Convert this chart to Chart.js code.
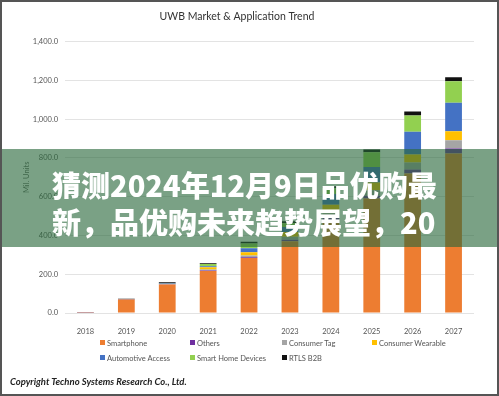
<!DOCTYPE html>
<html>
<head>
<meta charset="utf-8">
<script src="https://cdn.jsdelivr.net/npm/chart.js@4.4.1/dist/chart.umd.min.js"></script>
<style>
  html, body { margin: 0; padding: 0; background: #fff; }
  #wrap { position: relative; width: 499px; height: 396px; overflow: hidden; background: #fff; }
  #chart { position: absolute; left: 0; top: 0; }
  #frame { position: absolute; left: 0; top: 0; width: 495px; height: 392px; border: 2px solid #555; pointer-events: none; }
  #legend { position: absolute; left: 0; top: 0; font: 7.5px Lato, sans-serif; color: #555; }
  .item { position: absolute; white-space: nowrap; line-height: 10px; }
  .item i { display: inline-block; width: 5px; height: 5px; margin-right: 2px; vertical-align: 1px; }
  #copy { position: absolute; left: 10px; top: 376px; font: italic bold 9.5px Lato, sans-serif; color: #222; white-space: nowrap; }
  #banner { position: absolute; left: 0; top: 149px; width: 499px; height: 98px; background: rgba(40,104,58,0.62); overflow: hidden; }
  #banner div { position: absolute; left: 52px; font: 900 29px "Noto Sans CJK SC", sans-serif; color: #fff; white-space: nowrap; line-height: 37px; }
</style>
</head>
<body>
<div id="wrap">
  <canvas id="chart" width="499" height="396"></canvas>
  <div id="legend"></div>
  <div id="copy">Copyright Techno Systems Research Co., Ltd.</div>
  <div id="banner">
    <div style="top:17px">猜测2024年12月9日品优购最</div>
    <div style="top:54px">新，品优购未来趋势展望，20</div>
  </div>
  <div id="frame"></div>
</div>
<script>
const years = ["2018", "2019", "2020", "2021", "2022", "2023", "2024", "2025", "2026", "2027"];
const smartphone = [1, 70, 147, 217, 284, 370, 480, 590, 720, 823];
const others = [1, 1, 1, 2, 4, 8, 12, 15, 20, 25];
const consumerTag = [3, 0, 1, 5, 8, 15, 22, 28, 36, 43];
const consumerWearable = [0, 0, 1, 12, 18, 25, 45, 40, 42, 47];
const automotiveAccess = [0, 0, 2, 5, 20, 25, 55, 80, 117, 147];
const smartHome = [0, 0, 2, 12, 25, 20, 30, 76, 84, 111];
const rtlsB2B = [0, 3, 5, 4, 8, 10, 10, 15, 20, 20];

const seriesNames = ["Smartphone", "Others", "Consumer Tag", "Consumer Wearable",
  "Automotive Access", "Smart Home Devices", "RTLS B2B"];
const seriesColors = ["#ED7D31", "#7030A0", "#A5A5A5", "#FFC000", "#4472C4", "#92D050", "#111111"];
const seriesData = [smartphone, others, consumerTag, consumerWearable, automotiveAccess, smartHome, rtlsB2B];

Chart.defaults.font.family = "Lato, sans-serif";

const datasets = seriesNames.map((name, i) => ({
  label: name,
  data: seriesData[i],
  backgroundColor: seriesColors[i],
  borderWidth: 0,
  barPercentage: 0.41,
  categoryPercentage: 1,
}));

new Chart(document.getElementById("chart"), {
  type: "bar",
  data: { labels: years, datasets: datasets },
  options: {
    responsive: false,
    animation: false,
    layout: { padding: { left: 0, right: 25, top: 0, bottom: 0 } },
    plugins: {
      legend: { display: false },
      tooltip: { enabled: false },
      title: {
        display: true,
        text: "UWB Market & Application Trend",
        color: "#333",
        font: { size: 10.5, weight: "normal" },
        padding: { top: 10, bottom: 19 },
      },
    },
    scales: {
      x: {
        stacked: true,
        grid: { display: false },
        border: { display: false },
        ticks: { color: "#555", font: { size: 7.5 }, padding: 6 },
        afterFit: (s) => { s.height = 83; },
      },
      y: {
        stacked: true,
        min: 0,
        max: 1400,
        ticks: {
          stepSize: 200,
          color: "#555",
          font: { size: 7.5 },
          padding: 7,
          callback: (v) => v.toLocaleString("en-US", { minimumFractionDigits: 1, maximumFractionDigits: 1 }),
        },
        grid: { color: "#e3e3e3", drawTicks: false },
        border: { display: false },
        title: { display: true, text: "Mil. Units", color: "#666", font: { size: 7.5 }, padding: { top: 22 } },
        afterFit: (s) => { s.width = 65; },
      },
    },
  },
});

// legend laid out in columns like the original
const legendPos = [[100, 339], [190, 339], [282, 339], [372, 339], [100, 354], [190, 354], [282, 354]];
const legend = document.getElementById("legend");
seriesNames.forEach((name, i) => {
  const el = document.createElement("div");
  el.className = "item";
  el.style.left = legendPos[i][0] + "px";
  el.style.top = legendPos[i][1] + "px";
  el.innerHTML = '<i style="background:' + seriesColors[i] + '"></i>' + name;
  legend.appendChild(el);
});
</script>
</body>
</html>
